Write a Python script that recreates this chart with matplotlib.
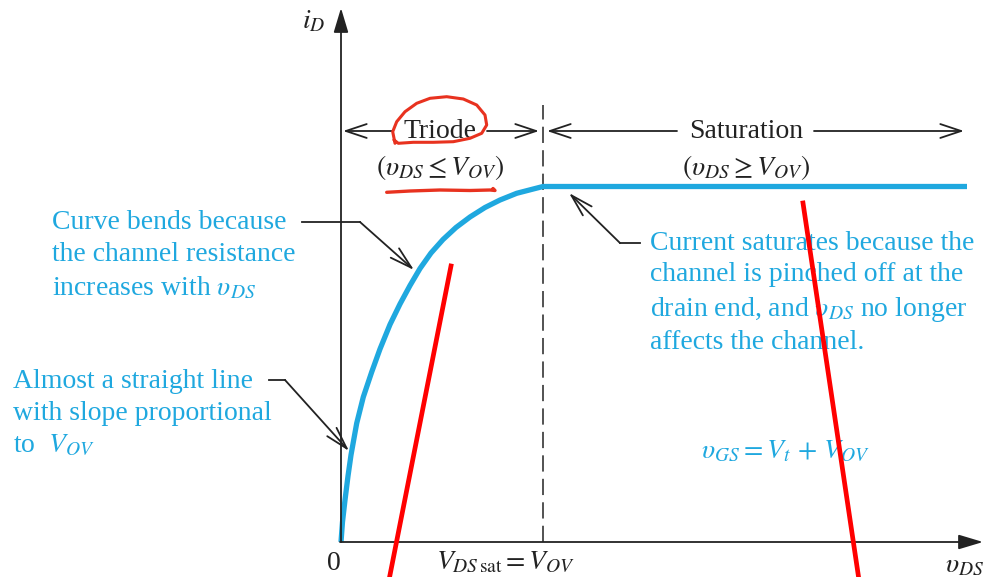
import numpy as np
import matplotlib
matplotlib.use("Agg")
from matplotlib import pyplot as plt

plt.rcParams['font.family'] = ['Liberation Serif', 'DejaVu Serif']
plt.rcParams['mathtext.fontset'] = 'stix'

# i_D - v_DS curve, v_DS in units of V_OV, i_D in units of the saturation current
vds = [0, 0.0074, 0.0198, 0.0347, 0.0495, 0.0777, 0.1104, 0.152, 0.1931, 0.2426,
       0.2921, 0.3416, 0.3911, 0.4455, 0.505, 0.5693, 0.6386, 0.7129, 0.7871,
       0.8698, 0.952, 1.0, 3.099]
i_d = [0, 0.0563, 0.1181, 0.1857, 0.2447, 0.3339, 0.4079, 0.4782, 0.5429, 0.6118,
       0.6695, 0.7215, 0.7693, 0.8129, 0.8509, 0.8847, 0.9142, 0.9409, 0.962,
       0.9809, 0.993, 1.0, 1.0]
vds_sat = 1.0

# hand drawn red marks (pixel positions on the page)
circle_x = [395, 392.7, 396.7, 405, 416.7, 430, 446.7, 463.3, 476.7, 485, 486.7,
            481.7, 470, 453.3, 433.3, 413.3, 398.3, 394]
circle_y = [143.3, 131.7, 121.7, 111.7, 103.3, 98.3, 96.7, 99, 105, 115, 125,
            133.3, 138.3, 141.7, 142.3, 142.3, 143.3, 140]
underline_x = [386.7, 410, 440, 470, 490, 495, 493]
underline_y = [192.3, 191, 190, 190.5, 190, 190.5, 188.5]
red1_x = [451, 389]
red1_y = [266, 580]
red2_x = [803, 859]
red2_y = [203, 580]

cyan = '#1fa8df'
ink = '#222222'
fs = 20

fig = plt.figure(figsize=(9.84, 5.77), dpi=100)

# main axes: origin at page pixel (341, 542), 202 px per V_OV, 355.5 px per I_sat
ax = fig.add_axes([0, 0, 1, 1])
ax.set_xlim(-341 / 202, 643 / 202)
ax.set_ylim(-35 / 355.5, 542 / 355.5)
ax.axis('off')
ax.plot(vds, i_d, color=cyan, lw=3.8, solid_capstyle='butt',
        solid_joinstyle='round', zorder=3)
ax.plot([vds_sat, vds_sat], [0, 1.23], color='#444444', lw=1.3,
        linestyle=(0, (9, 4)), zorder=2)

# overlay in page pixels for the annotations
ov = fig.add_axes([0, 0, 1, 1], facecolor='none')
ov.set_xlim(0, 984)
ov.set_ylim(577, 0)
ov.axis('off')

# axes with arrow heads
axprops = dict(arrowstyle='-|>,head_length=1.5,head_width=0.45', color=ink, lw=1.3,
               shrinkA=0, shrinkB=0)
ov.annotate('', xy=(341, 8), xytext=(341, 542), arrowprops=axprops)
ov.annotate('', xy=(983, 542), xytext=(340, 542), arrowprops=axprops)

ov.text(314, 22, r'$i_D$', fontsize=fs, ha='center', va='center', color=ink)
ov.text(334, 564, '0', fontsize=fs, ha='center', va='center', color=ink)
ov.text(506, 563, r'$V_{DS\,\mathrm{sat}} = V_{OV}$', fontsize=fs, ha='center',
        va='center', color=ink)
ov.text(965, 566, r'$\upsilon_{DS}$', fontsize=fs, ha='center', va='center', color=ink)

# region arrows
rprops = dict(arrowstyle='->,head_length=1.5,head_width=0.5', color=ink, lw=1.3,
              shrinkA=0, shrinkB=0)
ov.annotate('', xy=(343, 131), xytext=(393, 131), arrowprops=rprops)
ov.annotate('', xy=(539, 131), xytext=(487, 131), arrowprops=rprops)
ov.annotate('', xy=(547, 131), xytext=(677, 131), arrowprops=rprops)
ov.annotate('', xy=(964, 131), xytext=(814, 131), arrowprops=rprops)
ov.text(440, 131, 'Triode', fontsize=fs, ha='center', va='center', color=ink)
ov.text(746, 131, 'Saturation', fontsize=fs, ha='center', va='center', color=ink)
ov.text(440, 167, r'$(\upsilon_{DS} \leq V_{OV})$', fontsize=fs, ha='center',
        va='center', color=ink)
ov.text(746, 167, r'$(\upsilon_{DS} \geq V_{OV})$', fontsize=fs, ha='center',
        va='center', color=ink)

# leader lines
lprops = dict(arrowstyle='->,head_length=1.6,head_width=0.45', color=ink, lw=1.3,
              shrinkA=0, shrinkB=0)
ov.plot([302, 360], [222, 222], color=ink, lw=1.3)
ov.annotate('', xy=(414, 270), xytext=(360, 222), arrowprops=lprops)
ov.plot([269, 285], [380, 380], color=ink, lw=1.3)
ov.annotate('', xy=(349, 451), xytext=(285, 380), arrowprops=lprops)
ov.plot([640, 620], [243, 243], color=ink, lw=1.3)
ov.annotate('', xy=(569, 193), xytext=(620, 243), arrowprops=lprops)

# cyan notes
ov.text(52, 256, 'Curve bends because\nthe channel resistance\nincreases with $\\upsilon_{DS}$',
        fontsize=fs, color=cyan, ha='left', va='center', linespacing=1.38)
ov.text(13, 414, 'Almost a straight line\nwith slope proportional\nto  $V_{OV}$',
        fontsize=fs, color=cyan, ha='left', va='center', linespacing=1.35)
ov.text(650, 293, 'Current saturates because the\nchannel is pinched off at the\n'
        'drain end, and $\\upsilon_{DS}$ no longer\naffects the channel.',
        fontsize=fs, color=cyan, ha='left', va='center', linespacing=1.35)
ov.text(785, 452, r'$\upsilon_{GS} = V_t\, +\, V_{OV}$', fontsize=fs, color=cyan,
        ha='center', va='center')

# red hand marks
ov.plot(circle_x, circle_y, color='#e8321f', lw=2.2, zorder=5,
        solid_joinstyle='round', solid_capstyle='round')
ov.plot(underline_x, underline_y, color='#e8321f', lw=2.4, zorder=5,
        solid_capstyle='round')
ov.plot(red1_x, red1_y, color='#ff0000', lw=3.4, zorder=5)
ov.plot(red2_x, red2_y, color='#ff0000', lw=3.4, zorder=5)

fig.savefig('out.png', dpi=100)
